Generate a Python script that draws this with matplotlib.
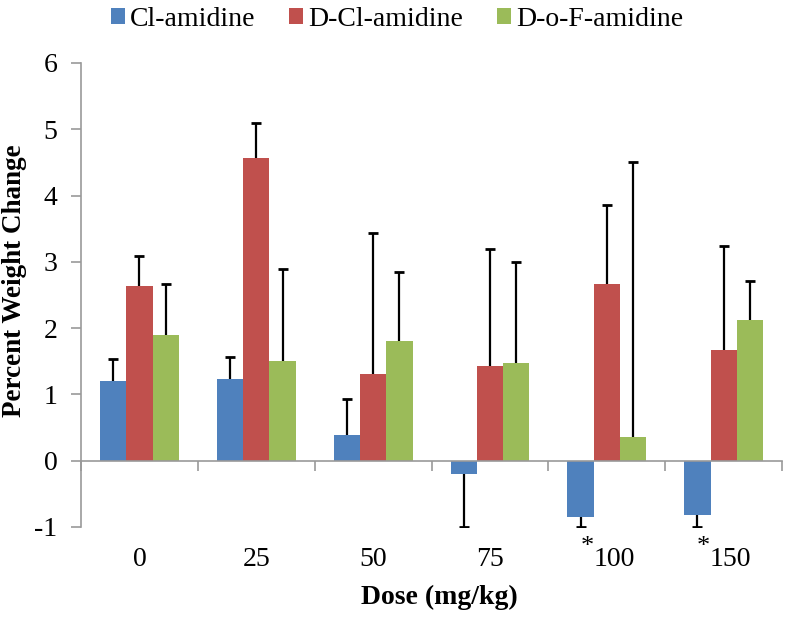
import numpy as np
import matplotlib
matplotlib.use('Agg')
from matplotlib import pyplot as plt
from matplotlib.transforms import ScaledTranslation

doses = ['0', '25', '50', '75', '100', '150']
series = ['Cl-amidine', 'D-Cl-amidine', 'D-o-F-amidine']
cl_vals = [1.20, 1.23, 0.38, -0.20, -0.85, -0.82]
cl_err = [0.33, 0.34, 0.55, 0.80, 0.15, 0.18]
dcl_vals = [2.63, 4.57, 1.30, 1.43, 2.67, 1.67]
dcl_err = [0.45, 0.53, 2.13, 1.76, 1.18, 1.57]
dof_vals = [1.90, 1.50, 1.80, 1.47, 0.35, 2.12]
dof_err = [0.77, 1.39, 1.05, 1.53, 4.15, 0.59]
starred = ['100', '150']
colors = ['#4F81BD', '#C0504D', '#9BBB59']

plt.rcParams['font.family'] = ['Liberation Serif', 'DejaVu Serif']

fig = plt.figure(figsize=(7.94, 6.17), dpi=100)
ax = fig.add_axes([0.102, 0.146, 0.883, 0.752])

x = np.arange(len(doses))
w = 0.225
all_vals = [cl_vals, dcl_vals, dof_vals]
all_err = [cl_err, dcl_err, dof_err]
for i, (vals, err) in enumerate(zip(all_vals, all_err)):
    pos = x + (i - 1) * w
    vals = np.array(vals)
    err = np.array(err)
    ax.bar(pos, vals, w, color=colors[i], label=series[i], zorder=2)
    # one-sided error bars, away from zero
    tips = np.where(vals < 0, vals - err, vals + err)
    ax.vlines(pos, vals, tips, color='black', linewidth=1.6, zorder=3)
    ax.plot(pos, tips, ls='none', marker='_', markersize=7.5, mew=2.0, color='black', zorder=3)

ax.set_xlim(-0.5, len(doses) - 0.5)
ax.set_ylim(-1, 6)
ax.set_yticks(range(-1, 7))
ax.set_yticklabels([str(v) for v in range(-1, 7)], fontsize=20)

for s in ['top', 'right']:
    ax.spines[s].set_visible(False)
ax.spines['left'].set_color('#999999')
ax.spines['bottom'].set_color('#999999')
ax.spines['left'].set_linewidth(1.2)
ax.spines['bottom'].set_linewidth(1.2)
ax.spines['bottom'].set_position(('data', 0))
ax.tick_params(axis='y', direction='out', length=7, width=1.2, color='#999999', pad=10)

ax.set_xticks(x)
ax.set_xticklabels(doses, fontsize=20)
ax.set_xticks(np.arange(len(doses) + 1) - 0.5, minor=True)
ax.tick_params(axis='x', which='major', length=0, pad=62)
ax.tick_params(axis='x', which='minor', direction='out', length=7, width=1.2, color='#999999')

# starred doses: shift label right to make room for the asterisk
shift = ScaledTranslation(7 / 100, 0, fig.dpi_scale_trans)
for lab in ax.get_xticklabels():
    if lab.get_text() in starred:
        lab.set_transform(lab.get_transform() + shift)

for i, d in enumerate(doses):
    if d in starred:
        ax.text(i - 0.17, -1.3, '*', fontsize=19, ha='center', va='center')

fig.text(0.018, 0.545, 'Percent Weight Change', fontsize=19.5, fontweight='bold',
         rotation=90, ha='center', va='center')
fig.text(0.553, 0.012, 'Dose (mg/kg)', fontsize=20, fontweight='bold', ha='center', va='bottom')

fig.legend(loc='center', bbox_to_anchor=(0.5, 0.968), ncol=3, frameon=False,
           fontsize=20, handlelength=0.5, handleheight=0.5, handletextpad=0.2,
           columnspacing=1.2, borderaxespad=0)

fig.savefig('out.png', dpi=100)
